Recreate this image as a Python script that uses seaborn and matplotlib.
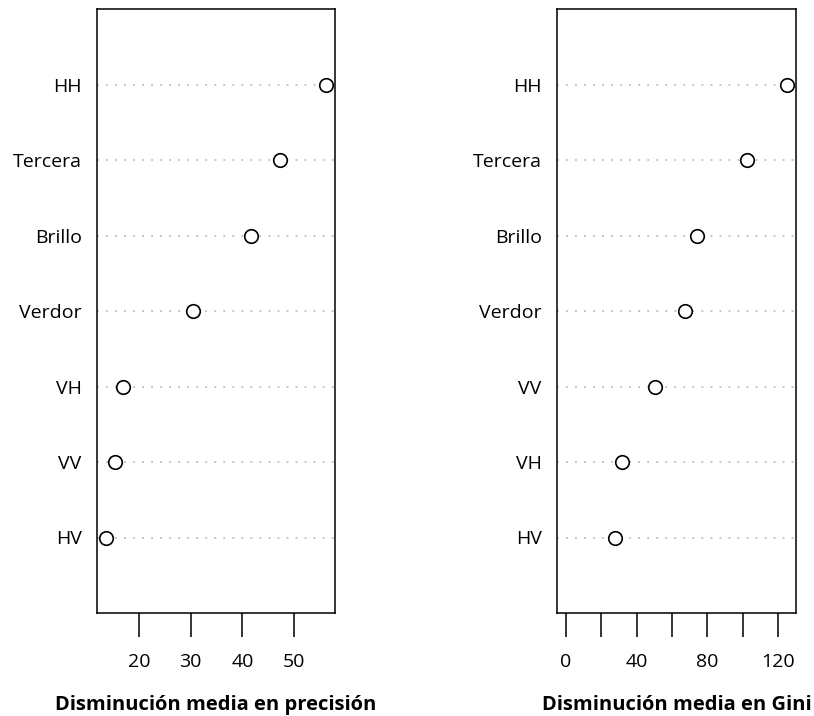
import matplotlib
matplotlib.use("Agg")
import matplotlib.pyplot as plt
import pandas as pd
import seaborn as sns

# importancia de variables (random forest)
vars_acc = ["HV", "VV", "VH", "Verdor", "Brillo", "Tercera", "HH"]
acc = [13.6, 15.4, 16.9, 30.4, 41.7, 47.3, 56.2]

vars_gini = ["HV", "VH", "VV", "Verdor", "Brillo", "Tercera", "HH"]
gini = [28.0, 32.0, 50.3, 67.4, 74.3, 102.3, 125.1]

sns.set_style("white")
plt.rcParams["font.family"] = ["Open Sans", "DejaVu Sans"]
plt.rcParams["text.color"] = "black"
plt.rcParams["xtick.color"] = "black"
plt.rcParams["ytick.color"] = "black"
plt.rcParams["axes.labelcolor"] = "black"

fig = plt.figure(figsize=(8.14, 7.16), dpi=100)
ax1 = fig.add_axes([97/814, 1-613/716, 238/814, 604/716])
ax2 = fig.add_axes([557/814, 1-613/716, 239/814, 604/716])


def dotplot(ax, names, vals, xmin, xlab, ticks, ticklabels):
    df = pd.DataFrame({"var": names, "val": vals})
    for i in range(len(names)):
        ax.axhline(i, color="#bebebe", lw=1.3, ls=(0, (1, 4)), zorder=1)
    sns.scatterplot(data=df, x="val", y="var", ax=ax, s=95, facecolor="white",
                    edgecolor="black", linewidth=1.2, zorder=3)
    lo = xmin
    hi = max(vals)
    pad = (hi - lo) * 0.04
    ax.set_xlim(lo - pad, hi + pad)
    ax.set_ylim(-1, len(names))
    ax.set_xticks(ticks)
    ax.set_xticklabels(ticklabels)
    ax.tick_params(axis="x", bottom=True, length=17, width=1.1, color="black",
                   pad=12, labelsize=14)
    ax.tick_params(axis="y", left=False, length=0, pad=11, labelsize=14)
    ax.set_xlabel(xlab, weight="bold", fontsize=14.5, labelpad=17)
    ax.set_ylabel("")
    for s in ax.spines.values():
        s.set_color("black")
        s.set_linewidth(1.1)


dotplot(ax1, vars_acc, acc, min(acc), "Disminución media en precisión",
        [20, 30, 40, 50], ["20", "30", "40", "50"])
dotplot(ax2, vars_gini, gini, 0, "Disminución media en Gini",
        [0, 20, 40, 60, 80, 100, 120], ["0", "", "40", "", "80", "", "120"])

plt.savefig("out.png", dpi=100)
